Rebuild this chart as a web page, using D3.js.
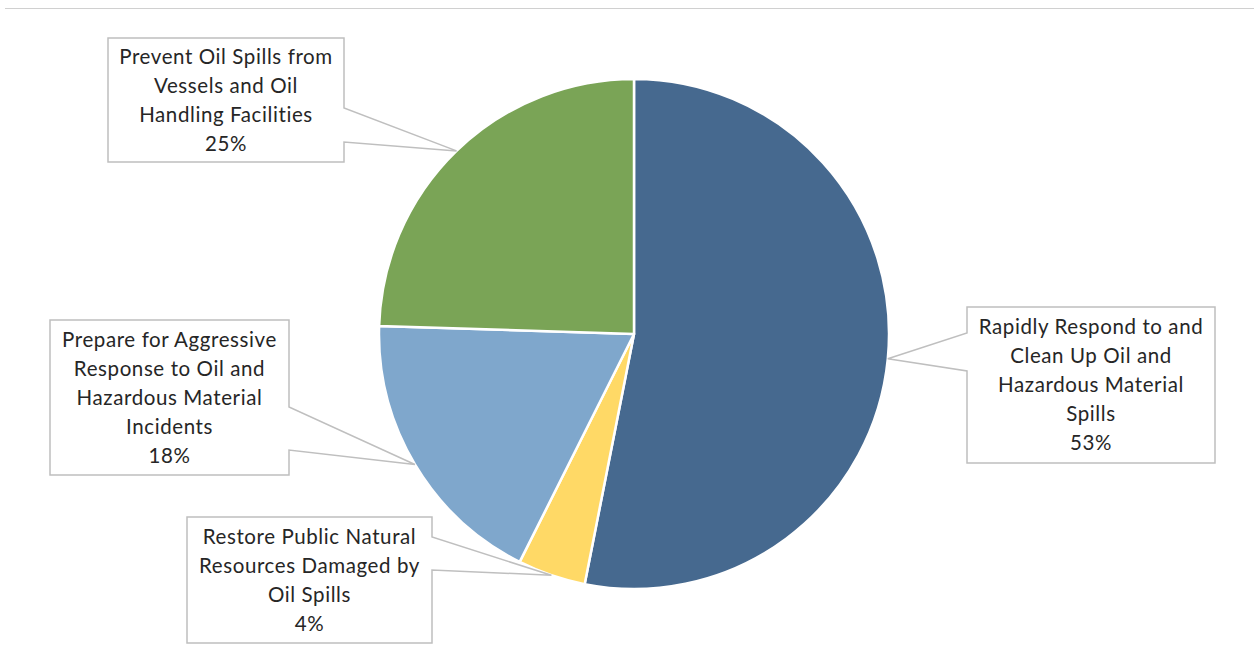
<!DOCTYPE html>
<html><head><meta charset="utf-8">
<script src="https://cdn.jsdelivr.net/npm/d3@7"></script>
<style>body{margin:0;background:#fff}svg{display:block}</style>
</head><body>
<svg id="c" width="1254" height="656"></svg>
<script>
const categories = [
  "Rapidly Respond to and Clean Up Oil and Hazardous Material Spills",
  "Restore Public Natural Resources Damaged by Oil Spills",
  "Prepare for Aggressive Response to Oil and Hazardous Material Incidents",
  "Prevent Oil Spills from Vessels and Oil Handling Facilities"
];
const values = [53.1, 4.3, 18.1, 24.5];
const percentLabels = ["53%", "4%", "18%", "25%"];
const labelLines = [
  ["Rapidly Respond to and", "Clean Up Oil and", "Hazardous Material", "Spills"],
  ["Restore Public Natural", "Resources Damaged by", "Oil Spills"],
  ["Prepare for Aggressive", "Response to Oil and", "Hazardous Material", "Incidents"],
  ["Prevent Oil Spills from", "Vessels and Oil", "Handling Facilities"]
];
const colors = ["#46698F", "#FFD966", "#7FA7CC", "#7AA456"];

// layout
const cx = 634, cy = 334, r = 255;
const boxes = [
  {x0: 967, y0: 307, x1: 1215, y1: 463, side: "left", g0: 333, g1: 371},
  {x0: 187, y0: 517, x1: 432, y1: 643, side: "right", g0: 537, g1: 570},
  {x0: 50, y0: 320, x1: 289, y1: 475, side: "right", g0: 407, g1: 450},
  {x0: 108, y0: 38, x1: 344, y1: 162, side: "right", g0: 108, g1: 142}
];

const svg = d3.select("#c");
svg.append("line").attr("x1", 5).attr("x2", 1254).attr("y1", 8.5).attr("y2", 8.5)
  .attr("stroke", "#d0d0d0").attr("stroke-width", 1);

const pie = d3.pie().sort(null).value(d => d);
const arcs = pie(values);
const arc = d3.arc().innerRadius(0).outerRadius(r);
const color = d3.scaleOrdinal().domain(d3.range(values.length)).range(colors);

const g = svg.append("g").attr("transform", `translate(${cx},${cy})`);
g.selectAll("path").data(arcs).join("path")
  .attr("d", arc)
  .attr("fill", (d, i) => color(i))
  .attr("stroke", "#fff").attr("stroke-width", 2.5).attr("stroke-linejoin", "round");

arcs.forEach((a, i) => {
  const b = boxes[i];
  const m = (a.startAngle + a.endAngle) / 2;
  const tx = cx + r * Math.sin(m), ty = cy - r * Math.cos(m);
  let p;
  if (b.side === "right") {
    p = `M${b.x0},${b.y0}H${b.x1}V${b.g0}L${tx},${ty}L${b.x1},${b.g1}V${b.y1}H${b.x0}Z`;
  } else {
    p = `M${b.x0},${b.y0}H${b.x1}V${b.y1}H${b.x0}V${b.g1}L${tx},${ty}L${b.x0},${b.g0}Z`;
  }
  svg.append("path").attr("d", p).attr("fill", "#fff")
    .attr("stroke", "#BFBFBF").attr("stroke-width", 1.5).attr("stroke-linejoin", "miter");

  const lines = labelLines[i].concat([percentLabels[i]]);
  const lh = 29;
  const midY = (b.y0 + b.y1) / 2;
  const startY = midY - (lines.length - 1) * lh / 2;
  const t = svg.append("text")
    .attr("text-anchor", "middle")
    .attr("font-family", "Lato, 'Open Sans', sans-serif")
    .attr("font-size", 20.5)
    .attr("letter-spacing", "0.6px")
    .attr("fill", "#262626");
  lines.forEach((s, k) => {
    t.append("tspan").attr("x", (b.x0 + b.x1) / 2).attr("y", startY + k * lh)
      .attr("dy", "0.35em").text(s);
  });
});
</script>
</body></html>
